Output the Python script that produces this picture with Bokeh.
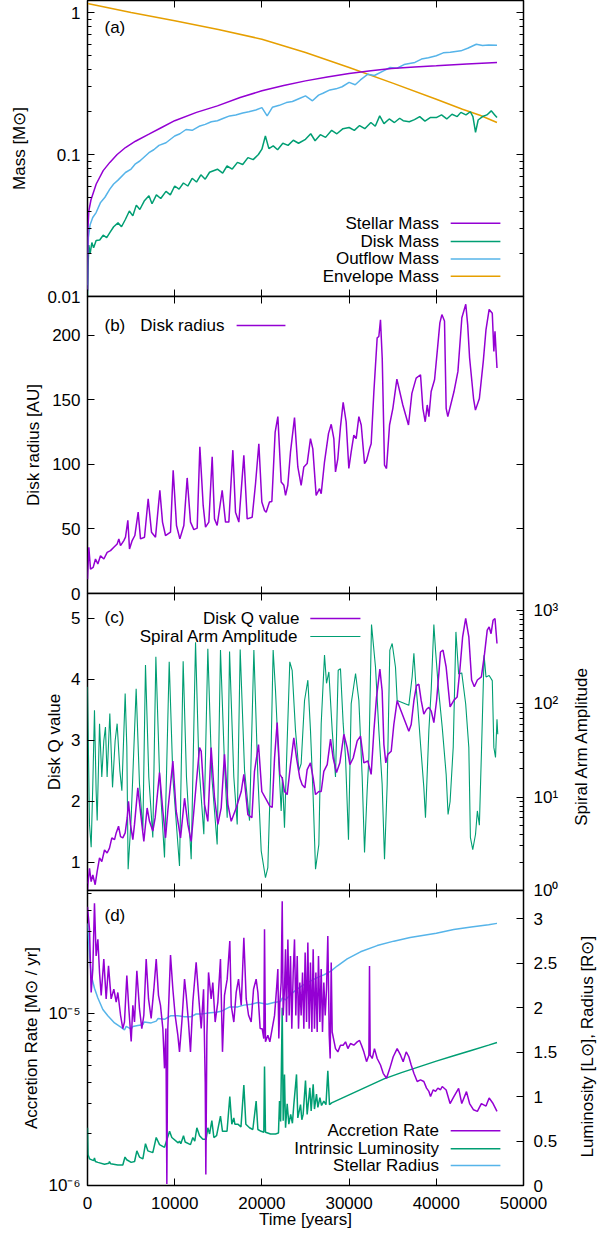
import math
from bokeh.plotting import figure
from bokeh.models import (Range1d, LinearAxis, LogAxis, FixedTicker, Label,
                          CustomJSTickFormatter, LogScale, LinearScale)
from bokeh.layouts import column, row
from bokeh.embed import file_html
from bokeh.resources import INLINE

FONT = "Liberation Sans"
FS = "17px"
PURPLE = "#9400D3"
GREEN = "#009E73"
BLUE = "#56B4E9"
ORANGE = "#E69F00"

X_RANGE = (0, 50000)
X_TICKS = [0, 10000, 20000, 30000, 40000, 50000]

# ---------------- panel (a): masses ----------------
t_stellar = [0, 50, 150, 400, 1000, 1800, 2560, 3400, 4355, 5500, 7045, 8500, 10000, 12500,
             14900, 17500, 20000, 22500, 25000, 27500, 30000, 32500, 34850, 37500, 40000,
             43500, 46960]
m_stellar = [0.011, 0.03, 0.04, 0.048, 0.062, 0.077, 0.088, 0.1, 0.112, 0.124, 0.139, 0.155,
             0.173, 0.198, 0.22, 0.252, 0.281, 0.306, 0.33, 0.352, 0.372, 0.389, 0.403, 0.413,
             0.421, 0.434, 0.445]

t_disk = [0, 60, 150, 300, 500, 700, 990, 1400, 1800, 2200, 2560, 3000, 3500, 3900, 4355, 4800,
          5200, 5600, 6000, 6500, 7045, 7400, 7900, 8400, 9000, 9500, 10000, 10500, 11000, 11500,
          12000, 12500, 13000, 13500, 14000, 14900, 15500, 16000, 16600, 17200, 17800, 18400,
          19000, 19600, 20000, 20400, 20800, 21300, 21800, 22400, 23000, 23600, 24200, 25000,
          25600, 26100, 26700, 27300, 28000, 28600, 29300, 30000, 30600, 31200, 31800, 32500,
          33000, 33510, 34000, 34600, 35200, 35800, 36200, 36900, 37500, 38100, 38700, 39300,
          40000, 40600, 41200, 41800, 42400, 42820, 43400, 43900, 44200, 44500, 44800, 45300,
          45800, 46300, 46700, 46960]
m_disk = [0.01, 0.016, 0.023, 0.02, 0.024, 0.022, 0.0248, 0.025, 0.027, 0.026, 0.0282, 0.031,
          0.033, 0.031, 0.035, 0.04, 0.037, 0.044, 0.041, 0.047, 0.0512, 0.045, 0.052, 0.049,
          0.055, 0.052, 0.06, 0.057, 0.063, 0.06, 0.068, 0.064, 0.072, 0.067, 0.075, 0.0788,
          0.074, 0.083, 0.079, 0.088, 0.085, 0.095, 0.092, 0.1, 0.109, 0.135, 0.11, 0.115, 0.108,
          0.12, 0.116, 0.126, 0.12, 0.128, 0.14, 0.125, 0.138, 0.132, 0.148, 0.14, 0.152, 0.155,
          0.148, 0.16, 0.152, 0.168, 0.158, 0.187, 0.165, 0.178, 0.168, 0.18, 0.173, 0.17, 0.176,
          0.185, 0.172, 0.182, 0.182, 0.19, 0.178, 0.192, 0.185, 0.198, 0.19, 0.2, 0.185, 0.143,
          0.175, 0.185, 0.19, 0.203, 0.19, 0.182]

t_outflow = [0, 100, 300, 600, 990, 1500, 2000, 2560, 3000, 3500, 4355, 5000, 5500, 6000, 7045,
             7600, 8200, 9000, 10000, 10600, 11300, 12000, 12800, 13500, 14200, 14900, 15600,
             16300, 17000, 17800, 18500, 19300, 20000, 20600, 21200, 22000, 22800, 23500, 24300,
             25000, 25800, 26500, 27000, 27800, 28500, 29200, 30000, 30700, 31300, 32160, 32900,
             33950, 34700, 35500, 36300, 37545, 38300, 39100, 40000, 40800, 41600, 42820, 43600,
             44590, 45300, 46000, 46960]
m_outflow = [0.012, 0.026, 0.032, 0.036, 0.039, 0.046, 0.05, 0.057, 0.062, 0.066, 0.0747, 0.079,
             0.086, 0.09, 0.103, 0.108, 0.116, 0.121, 0.135, 0.14, 0.15, 0.148, 0.158, 0.163,
             0.17, 0.173, 0.18, 0.187, 0.19, 0.196, 0.2, 0.206, 0.214, 0.187, 0.215, 0.222,
             0.232, 0.236, 0.248, 0.259, 0.239, 0.262, 0.27, 0.285, 0.29, 0.3, 0.322, 0.31,
             0.335, 0.368, 0.36, 0.388, 0.41, 0.405, 0.43, 0.445, 0.47, 0.48, 0.496, 0.52,
             0.525, 0.537, 0.56, 0.598, 0.585, 0.59, 0.589]

t_envelope = [0, 5000, 10000, 15000, 20000, 25000, 30000, 35000, 40000, 43000, 45000, 46960]
m_envelope = [1.157, 1.0, 0.874, 0.759, 0.649, 0.523, 0.41, 0.318, 0.245, 0.2085, 0.189, 0.168]

# ---------------- panel (b): disk radius ----------------
t_radius = [0, 153, 344, 650, 918, 1185, 1490, 1873, 2255, 2638, 3020, 3402, 3594, 3785, 4167,
            4358, 4626, 4817, 5123, 5429, 5811, 6079, 6537, 6958, 7340, 7799, 8296, 8602, 8946,
            9519, 9825, 10207, 10590, 11048, 11430, 11813, 12195, 12578, 12884, 13266, 13533,
            13916, 14298, 14565, 14871, 15445, 15827, 16209, 16668, 16974, 17356, 17930, 18312,
            18885, 19268, 19650, 19993, 20300, 20490, 20870, 21140, 21520, 21830, 22210, 22520,
            22710, 22970, 23280, 23740, 24120, 24500, 24810, 25190, 25570, 25840, 26220, 26610,
            26800, 27180, 27640, 27950, 28250, 28440, 28710, 29010, 29320, 29660, 29970, 30240,
            30540, 30810, 31120, 31390, 31770, 32000, 32340, 32530, 32840, 33220, 33410, 33600,
            33800, 34060, 34290, 34640, 35020, 35480, 36160, 36810, 37200, 37690, 38190, 38460,
            38730, 38960, 39150, 39410, 39800, 40180, 40410, 40640, 40940, 41130, 41320, 42030,
            42480, 42930, 43380, 43600, 43820, 44270, 44490, 44940, 45390, 45700, 46060, 46420,
            46600, 46730, 46960]
r_disk = [11, 35.8, 18.9, 20.2, 26.7, 22.8, 29.3, 26.7, 31.9, 33.2, 35.8, 38.4, 42.3, 37.1, 41,
          43.6, 56.6, 34.5, 41, 44.9, 63, 42.3, 43.6, 73.4, 47.5, 43.6, 79.9, 55.3, 44.9, 47.5,
          95.5, 52.7, 42.3, 52.7, 89.5, 55.3, 49.5, 50.6, 113.6, 68.2, 51.4, 55.3, 105.8, 57.8,
          52.7, 79.9, 55.3, 55.3, 111, 63, 55.3, 107, 57.8, 59.1, 85, 116, 70.8, 64.3, 63, 70.8,
          71.3, 125, 137, 86.4, 83.8, 76, 83.8, 109.7, 136.2, 98, 83.8, 98, 100.6, 120, 112, 76,
          81.2, 77.3, 102, 124, 131, 120, 94.2, 104.5, 129, 148, 133, 96.8, 109.7, 122.7, 120,
          137, 130.5, 100.6, 103, 112, 116, 156, 198, 199, 212, 182, 99.4, 96.8, 130.5, 143.4,
          166, 146, 130.5, 155, 166.8, 169.4, 143.4, 133, 146, 137, 156.4, 165.5, 192.7, 209.6,
          216, 211, 143.4, 137, 156.4, 172, 213.5, 224, 208, 182.4, 151, 142, 151, 180, 204.4,
          220, 217, 187.5, 203, 174.6]

# ---------------- panel (c): Q value and spiral arm amplitude ----------------
t_q = [0, 40, 230, 420, 610, 880, 1110, 1380, 1640, 1950, 2250, 2520, 2790, 3100, 3290, 3560,
       3790, 4050, 4320, 4550, 4700, 4930, 5200, 5390, 5770, 6150, 6460, 6840, 7110, 7490, 7760,
       8260, 8640, 8950, 9210, 9790, 10170, 10670, 10860, 11130, 11510, 11890, 12460, 12850,
       13040, 13420, 13800, 14180, 14570, 14950, 15330, 15710, 16100, 16480, 17050, 17630,
       17930, 18390, 18850, 19150, 19610, 19990, 20410, 20910, 21180, 21450, 21750, 22060,
       22330, 22590, 22900, 23280, 23660, 23970, 24350, 24620, 24930, 25190, 25570, 25880,
       26150, 26530, 26800, 27100, 27490, 27870, 28170, 28560, 28940, 29400, 29780, 30090,
       30470, 30930, 31310, 31690, 32150, 32530, 32840, 33140, 33530, 33790, 33990, 34210,
       34440, 34830, 35130, 35510, 36850, 37120, 37430, 37730, 38000, 38270, 38570, 38880,
       39150, 39420, 39720, 40030, 40290, 40480, 40770, 41130, 41580, 42030, 42390, 42700,
       43020, 43370, 43730, 44050, 44360, 44710, 45170, 45530, 45840, 46060, 46280, 46510,
       46730, 46960]
q_disk = [0.5, 0.63, 0.9, 0.68, 0.79, 0.63, 0.85, 1.07, 1.01, 1.2, 1.15, 1.23, 1.4, 1.37, 1.48,
          1.59, 1.42, 1.4, 1.48, 1.73, 2.0, 1.62, 1.37, 1.62, 2.22, 1.73, 1.34, 1.89, 1.67, 1.51,
          1.73, 2.47, 1.84, 1.4, 1.84, 2.66, 1.84, 1.4, 1.67, 2.05, 1.62, 1.34, 2.27, 2.88, 2.82,
          1.95, 1.67, 2.88, 2.05, 1.62, 1.89, 2.77, 1.95, 1.67, 1.89, 2.16, 2.44, 1.78, 1.73,
          2.49, 2.93, 2.16, 2.05, 1.92, 1.9, 2.71, 3.29, 2.44, 2.38, 2.16, 2.11, 2.6, 3.04, 2.71,
          2.38, 2.27, 2.22, 2.52, 2.63, 2.38, 2.11, 2.16, 2.16, 2.49, 2.6, 3.02, 2.71, 2.47, 2.63,
          3.1, 2.88, 2.6, 2.71, 2.99, 3.07, 2.63, 2.66, 2.44, 3.15, 3.7, 4.17, 3.81, 2.93, 2.63,
          2.77, 2.82, 3.26, 3.65, 3.15, 3.26, 3.65, 3.9, 3.92, 3.65, 3.43, 3.51, 3.54, 3.48,
          3.29, 3.65, 4.09, 4.45, 4.48, 4.2, 3.55, 3.66, 3.71, 4.15, 4.7, 5.0, 4.7, 3.99, 3.88,
          3.99, 4.04, 4.42, 4.81, 4.86, 4.75, 4.97, 5.0, 4.59]

t_amp = [0, 230, 420, 610, 800, 990, 1110, 1380, 1640, 1870, 2060, 2250, 2560, 2870, 3170,
         3400, 3710, 3940, 4320, 4510, 4660, 5010, 5580, 5960, 6350, 6650, 7030, 7490, 7840,
         8260, 8830, 9370, 9790, 10550, 10970, 11350, 11890, 12390, 12770, 13340, 13800, 14260,
         14870, 15250, 15710, 16020, 16290, 16780, 17170, 17510, 18010, 18580, 19080, 19540,
         19920, 20410, 20680, 20990, 21290, 21560, 21940, 22210, 22360, 22590, 22900, 23200,
         23470, 23850, 24240, 24500, 24890, 25270, 25570, 25880, 26150, 26530, 26800, 27180,
         27410, 27680, 28060, 28440, 28750, 29010, 29320, 29590, 29930, 30240, 30740, 31120,
         31500, 31770, 32070, 32270, 32570, 33030, 33410, 33790, 34060, 34370, 34670, 34940,
         35320, 35510, 36850, 37230, 37430, 37620, 37880, 38190, 38570, 38760, 39150, 39420,
         39720, 39910, 40230, 40680, 41130, 41350, 41580, 41940, 42250, 42560, 42920, 43370,
         43730, 43910, 44180, 44500, 44710, 44940, 45170, 45480, 45700, 46060, 46420, 46600,
         46790, 46960, 47050]
a_spiral = [151, 5.1, 2.9, 13.8, 85, 11.7, 5.6, 61, 16.4, 40, 56, 16.4, 78.5, 12.7, 40, 61, 19.2,
            11.7, 128, 34, 1.69, 6.0, 144, 13.8, 4.4, 258, 16.4, 3.7, 317, 17.7, 2.25, 280, 16.4,
            1.83, 284, 16.4, 2.16, 453, 22.7, 4.0, 386, 16.4, 3.1, 374, 22.7, 6.0, 360, 16.4, 5.1,
            380, 19.2, 5.6, 374, 16.4, 2.66, 1.37, 1.76, 16.4, 374, 138, 22.7, 7.1, 16.4, 4.7, 40,
            280, 227, 52, 19.2, 22.7, 108, 178, 52, 9.9, 1.69, 3.1, 61, 330, 165, 218, 52, 16.4,
            227, 236, 61, 26.7, 3.5, 100, 210, 108, 16.4, 2.55, 11.7, 26.7, 700, 245, 52, 13.8,
            2.16, 13.8, 374, 440, 245, 108, 95.8, 194, 346, 178, 92, 37, 12.7, 6.0, 52, 143, 700,
            374, 150, 55.7, 17.5, 6.5, 8.9, 34, 585, 208, 213, 99, 34, 3.7, 2.74, 4.0, 7.1, 5.0,
            28.6, 328, 193, 200, 176, 34, 26.5, 68, 47]

# ---------------- panel (d): accretion rate, luminosity, stellar radius ----------------
t_acc = [0, 230, 420, 610, 800, 990, 1190, 1380, 1570, 1870, 2140, 2410, 2710, 3020, 3290, 3480,
         3790, 4050, 4240, 4510, 4740, 5010, 5200, 5390, 5660, 5960, 6230, 6460, 6730, 7000,
         7300, 7610, 7880, 8140, 8370, 8640, 8830, 8990, 9100, 9210, 9520, 9790, 10050, 10360,
         10550, 10820, 11130, 11320, 11580, 11810, 12080, 12460, 12770, 13040, 13310, 13500,
         13570, 13690, 13880, 14180, 14370, 14640, 14950, 15250, 15480, 15710, 16020, 16320,
         16480, 16780, 17050, 17320, 17630, 17930, 18200, 18470, 18770, 19040, 19340, 19540,
         19800, 20030, 20220, 20300, 20410, 20680, 20910, 21180, 21450, 21680, 21830, 21940,
         22060, 22210, 22330, 22440, 22590, 22710, 22820, 22980, 23130, 23280, 23430, 23590,
         23740, 23890, 24050, 24200, 24350, 24500, 24660, 24810, 24960, 25120, 25270, 25420,
         25570, 25730, 25880, 26030, 26190, 26340, 26490, 26650, 26800, 26950, 27100, 27260,
         27410, 27560, 27720, 27830, 27950, 28060, 28440, 28710, 29010, 29320, 29590, 29860,
         30160, 30540, 30930, 31200, 31420, 31690, 32000, 32270, 32340, 32420, 32650, 32910,
         33220, 33600, 33910, 34290, 34670, 35060, 35510, 35900, 36200, 36550, 36850, 37120,
         37430, 37810, 38190, 38570, 38880, 39150, 39340, 39650, 39910, 40180, 40480, 40680,
         41130, 41580, 42030, 42560, 42920, 43460, 43820, 44270, 44710, 45170, 45700, 46060,
         46510, 46960]
acc_rate = [4.2e-5, 3.1e-5, 1.33e-5, 1.82e-5, 4.4e-5, 2.17e-5, 2.71e-5, 1.74e-5, 1.28e-5, 2.08e-5,
            1.22e-5, 1.9e-5, 1.22e-5, 1.39e-5, 1.17e-5, 1.33e-5, 9.8e-6, 8.2e-6, 8.95e-6, 1.67e-5,
            1.07e-5, 6.9e-6, 1.12e-5, 8.95e-6, 1.78e-5, 1.07e-5, 8.2e-6, 9.8e-6, 2.08e-5, 1.22e-5,
            9.4e-6, 1.39e-5, 2.08e-5, 1.28e-5, 1.12e-5, 8.2e-6, 4.81e-6, 8.2e-6, 1.02e-6, 8.2e-6,
            2.2e-5, 1.39e-5, 9.8e-6, 7.5e-6, 6.0e-6, 8.95e-6, 1.59e-5, 1.28e-5, 8.95e-6, 6.0e-6,
            1.17e-5, 1.99e-5, 1.22e-5, 8.2e-6, 1.39e-5, 4.0e-6, 1.16e-6, 7.5e-6, 1.74e-5, 1.22e-5,
            1.52e-5, 8.95e-6, 1.17e-5, 2.08e-5, 6.0e-6, 1.28e-5, 1.59e-5, 2.65e-5, 1.12e-5,
            8.95e-6, 1.33e-5, 1.59e-5, 1.12e-5, 2.77e-5, 1.22e-5, 9.8e-6, 8.95e-6, 1.39e-5,
            1.59e-5, 1.33e-5, 8.2e-6, 8.19e-6, 7.17e-6, 3.1e-5, 6.86e-6, 7.5e-6, 6.86e-6, 8.19e-6,
            9.78e-6, 1.395e-5, 1.82e-5, 7.17e-6, 1.168e-5, 1.52e-5, 4.52e-5, 9.78e-6, 1.395e-5,
            2.375e-5, 8.95e-6, 2.71e-5, 9.78e-6, 2.17e-5, 8.19e-6, 1.74e-5, 2.71e-5, 9.78e-6,
            2.17e-5, 8.19e-6, 1.52e-5, 9.78e-6, 1.74e-5, 8.19e-6, 2.27e-5, 8.95e-6, 2.6e-5,
            8.19e-6, 1.99e-5, 7.83e-6, 2.375e-5, 8.19e-6, 1.74e-5, 7.83e-6, 2.17e-5, 8.95e-6,
            1.82e-5, 7.83e-6, 1.52e-5, 9.78e-6, 1.395e-5, 2.84e-5, 7.5e-6, 5.49e-6, 1.99e-5,
            7.83e-6, 6.27e-6, 6.0e-6, 6.56e-6, 6.56e-6, 6.86e-6, 6.27e-6, 6.71e-6, 6.56e-6,
            6.86e-6, 6.99e-6, 6.56e-6, 6.0e-6, 5.26e-6, 5.74e-6, 1.9e-5, 5.74e-6, 5.49e-6, 6.27e-6,
            5.49e-6, 5.03e-6, 4.5e-6, 4.21e-6, 4.81e-6, 5.62e-6, 6.27e-6, 5.74e-6, 5.26e-6, 6.0e-6,
            5.62e-6, 5.03e-6, 4.5e-6, 4.03e-6, 4.12e-6, 4.03e-6, 3.69e-6, 3.53e-6, 3.3e-6, 3.61e-6,
            3.53e-6, 3.69e-6, 3.61e-6, 3.77e-6, 3.6e-6, 3.0e-6, 3.3e-6, 3.68e-6, 3.0e-6, 3.52e-6,
            3.0e-6, 2.76e-6, 2.7e-6, 3.0e-6, 2.9e-6, 3.23e-6, 3.0e-6, 2.7e-6]

t_lum = [0, 60, 230, 700, 800, 900, 1190, 1950, 2450, 2520, 2650, 3480, 4050, 4300, 4500, 5010,
         5400, 5660, 5960, 6350, 6650, 6920, 7490, 7880, 8260, 8830, 9410, 9670, 10400, 10550,
         10700, 11010, 11200, 11810, 12080, 12300, 12540, 12850, 13230, 13600, 13800, 14000,
         14260, 14490, 14800, 15250, 15480, 16000, 16320, 16550, 16780, 16900, 17240, 17600,
         17930, 18160, 18580, 18960, 19340, 19540, 19920, 20220, 20300, 20410, 20990, 21560,
         21900, 22020, 22150, 22330, 22440, 22590, 22710, 22900, 23090, 23300, 23500, 23660,
         23970, 24120, 24430, 24580, 24730, 25000, 25190, 25500, 25650, 25880, 26030, 26260,
         26420, 26650, 26840, 27100, 27350, 27560, 27750, 28000, 30000, 32000, 34000, 36000,
         38000, 40000, 42000, 44000, 46000, 46960]
lum = [0.65, 0.35, 0.3, 0.28, 0.31, 0.27, 0.26, 0.24, 0.25, 0.27, 0.245, 0.23, 0.23, 0.32, 0.29,
       0.26, 0.27, 0.39, 0.32, 0.3, 0.47, 0.39, 0.37, 0.54, 0.46, 0.43, 0.61, 0.54, 0.48, 0.5,
       0.47, 0.56, 0.49, 0.46, 0.54, 0.5, 0.65, 0.56, 0.52, 0.52, 0.65, 0.58, 0.73, 0.54, 0.56,
       0.78, 0.61, 0.61, 1.0, 0.69, 0.76, 0.69, 0.69, 0.66, 1.13, 0.69, 0.65, 0.63, 0.95, 0.63,
       0.61, 0.6, 1.34, 0.6, 0.58, 0.58, 0.59, 0.95, 0.72, 2.0, 0.73, 1.25, 0.65, 0.92, 0.69,
       0.8, 0.7, 0.91, 1.25, 0.76, 0.91, 0.74, 0.8, 1.18, 0.8, 1.1, 0.84, 1.14, 0.86, 1.03,
       0.88, 0.99, 0.9, 0.95, 0.91, 1.29, 0.91, 0.93, 1.02, 1.11, 1.2, 1.27, 1.335, 1.4, 1.46,
       1.52, 1.58, 1.61]

t_rad = [0, 230, 420, 800, 1190, 1760, 2330, 3100, 3860, 4240, 4440, 5010, 5200, 5770, 6350,
         6500, 7300, 7880, 8100, 8830, 9520, 10360, 11130, 11890, 12460, 13040, 13800, 14750,
         15330, 16320, 17240, 17930, 18770, 19540, 20600, 21370, 22130, 22330, 22710, 23280,
         24050, 24810, 25570, 26340, 27100, 27870, 28630, 29780, 31310, 33220, 35130, 37000,
         40000, 42000, 44000, 46000, 46960]
rad = [2.95, 2.6, 2.37, 2.22, 2.11, 1.98, 1.91, 1.83, 1.78, 1.75, 1.79, 1.76, 1.79, 1.8, 1.81,
       1.84, 1.83, 1.85, 1.88, 1.87, 1.91, 1.91, 1.9, 1.9, 1.93, 1.93, 1.94, 1.95, 1.96, 2.01,
       2.01, 2.03, 2.04, 2.06, 2.04, 2.06, 2.07, 2.11, 2.09, 2.15, 2.21, 2.26, 2.3, 2.34, 2.37,
       2.41, 2.47, 2.55, 2.63, 2.7, 2.75, 2.79, 2.84, 2.88, 2.91, 2.935, 2.95]

# tick values
MASS_TICKS = [0.01, 0.1, 1]
RADIUS_TICKS = [0, 50, 100, 150, 200]
Q_TICKS = [1, 2, 3, 4, 5]
AMP_TICKS = [1, 10, 100, 1000]
ACC_TICKS = [1e-6, 1e-5]
LR_TICKS = [0, 0.5, 1, 1.5, 2, 2.5, 3]

# axis ranges
A_YR = (0.01, 1.215)
B_YR = (0, 230)
C_YR = (0.535, 5.41)
C_Y2R = (1, 1507)
D_YR = (1e-6, 5.22e-5)
D_Y2R = (0, 3.32)


def log_minors(lo_exp, hi_exp, top):
    out = []
    for e in range(lo_exp, hi_exp + 1):
        for m in range(2, 10):
            v = m * 10.0 ** e
            if v < top:
                out.append(v)
    return out


sup_fmt_code = """
const s = {"-":"\u207b","0":"\u2070","1":"\u00b9","2":"\u00b2","3":"\u00b3","4":"\u2074",
           "5":"\u2075","6":"\u2076","7":"\u2077","8":"\u2078","9":"\u2079"};
const e = Math.round(Math.log10(tick));
return "10" + String(e).split("").map(c => s[c]).join("");
"""
plain_fmt_code = "return Number(tick.toPrecision(6)).toString();"


def style_axis(ax, show, standoff=10, label_standoff=5):
    ax.axis_line_color = None
    ax.major_tick_in = 7
    ax.major_tick_out = 0
    ax.minor_tick_in = 4
    ax.minor_tick_out = 0
    ax.major_tick_line_color = "black"
    ax.minor_tick_line_color = "black"
    ax.major_tick_line_width = 1
    ax.minor_tick_line_width = 1
    ax.major_label_text_font = FONT
    ax.major_label_text_color = "black"
    ax.axis_label_text_font = FONT
    ax.axis_label_text_font_size = FS
    ax.axis_label_text_font_style = "normal"
    ax.axis_label_text_color = "black"
    ax.axis_label_standoff = label_standoff
    if show:
        ax.major_label_text_font_size = FS
        ax.major_label_text_alpha = 1.0
        ax.major_label_standoff = standoff
    else:
        # mirrored tick marks only (gnuplot style); labels invisible
        ax.major_label_text_font_size = "1px"
        ax.major_label_text_alpha = 0
        ax.major_label_standoff = 0


def make_panel(frame_h, yr, log, btop, bbot, mtop, bright=70):
    p = figure(frame_width=436, frame_height=frame_h,
               x_range=Range1d(*X_RANGE), y_range=Range1d(*yr),
               y_axis_type="log" if log else "linear",
               output_backend="svg", toolbar_location=None,
               min_border_left=87, min_border_right=bright,
               min_border_top=btop, min_border_bottom=bbot,
               margin=(mtop, 0, 0, 0))
    p.grid.visible = False
    p.outline_line_color = "black"
    p.outline_line_width = 1.5
    p.outline_line_alpha = 1.0
    p.background_fill_color = "white"
    p.border_fill_alpha = 0
    xb = p.below[0]
    xb.ticker = FixedTicker(ticks=X_TICKS, minor_ticks=[])
    style_axis(xb, False)
    xt = LinearAxis(ticker=FixedTicker(ticks=X_TICKS, minor_ticks=[]))
    style_axis(xt, False)
    p.add_layout(xt, "above")
    return p, xb, p.left[0]


STRIP_W = 34


def side_title(text, height, fx, fy):
    # narrow transparent strip holding a right-hand axis title that reads bottom-to-top
    s = figure(frame_width=STRIP_W, frame_height=height, x_range=Range1d(0, 1),
               y_range=Range1d(0, 1), output_backend="svg", toolbar_location=None,
               x_axis_location=None, y_axis_location=None,
               min_border_left=0, min_border_right=0, min_border_top=0, min_border_bottom=0)
    s.grid.visible = False
    s.outline_line_color = None
    s.background_fill_alpha = 0
    s.border_fill_alpha = 0
    s.add_layout(Label(x=fx, y=fy, text=text, angle=math.pi / 2, text_align="center",
                       text_baseline="middle", text_font=FONT, text_font_size=FS,
                       text_color="black"))
    return s


def ylin(r, f):
    return r[0] + (r[1] - r[0]) * f


def ylog(r, f):
    a, b = math.log10(r[0]), math.log10(r[1])
    return 10 ** (a + (b - a) * f)


def add_text(p, text, fx, y, align):
    p.add_layout(Label(x=X_RANGE[1] * fx, y=y, text=text, text_align=align,
                       text_baseline="middle", text_font=FONT, text_font_size=FS,
                       text_color="black"))


def add_key(p, text, ftext, f0, f1, y, color, lw):
    add_text(p, text, ftext, y, "right")
    p.line([X_RANGE[1] * f0, X_RANGE[1] * f1], [y, y], line_color=color, line_width=lw)


LW = 1.5

# ---------------- panel (a) ----------------
pa, xa, ya = make_panel(296, A_YR, True, 4, 12, -4)
ya.ticker = FixedTicker(ticks=MASS_TICKS, minor_ticks=log_minors(-2, 0, A_YR[1]))
ya.formatter = CustomJSTickFormatter(code=plain_fmt_code)
style_axis(ya, True, standoff=7, label_standoff=15)
ya.axis_label = "Mass [M\u2299]"
ra = LogAxis(ticker=FixedTicker(ticks=MASS_TICKS, minor_ticks=log_minors(-2, 0, A_YR[1])))
style_axis(ra, False)
pa.add_layout(ra, "right")
pa.line(t_envelope, m_envelope, line_color=ORANGE, line_width=LW)
pa.line(t_outflow, m_outflow, line_color=BLUE, line_width=LW)
pa.line(t_disk, m_disk, line_color=GREEN, line_width=LW)
pa.line(t_stellar, m_stellar, line_color=PURPLE, line_width=LW)
add_text(pa, "(a)", 0.039, ylog(A_YR, 0.909), "left")
add_key(pa, "Stellar Mass", 0.806, 0.833, 0.947, ylog(A_YR, 0.2475), PURPLE, LW)
add_key(pa, "Disk Mass", 0.806, 0.833, 0.947, ylog(A_YR, 0.186), GREEN, LW)
add_key(pa, "Outflow Mass", 0.806, 0.833, 0.947, ylog(A_YR, 0.127), BLUE, LW)
add_key(pa, "Envelope Mass", 0.806, 0.833, 0.947, ylog(A_YR, 0.068), ORANGE, LW)

# ---------------- panel (b) ----------------
pb, xb_, yb = make_panel(297, B_YR, False, 4, 12, -16)
yb.ticker = FixedTicker(ticks=RADIUS_TICKS, minor_ticks=[])
style_axis(yb, True, standoff=7, label_standoff=6)
yb.axis_label = "Disk radius [AU]"
rb = LinearAxis(ticker=FixedTicker(ticks=RADIUS_TICKS, minor_ticks=[]))
style_axis(rb, False)
pb.add_layout(rb, "right")
pb.line(t_radius, r_disk, line_color=PURPLE, line_width=LW)
add_text(pb, "(b)", 0.039, ylin(B_YR, 0.902), "left")
add_key(pb, "Disk radius", 0.314, 0.342, 0.454, ylin(B_YR, 0.902), PURPLE, LW)

# ---------------- panel (c) ----------------
pc, xc, yc = make_panel(297, C_YR, False, 4, 12, 0, bright=40)
pc.extra_y_ranges = {"amp": Range1d(*C_Y2R)}
pc.extra_y_scales = {"amp": LogScale()}
yc.ticker = FixedTicker(ticks=Q_TICKS, minor_ticks=[])
style_axis(yc, True, standoff=7, label_standoff=4)
yc.axis_label = "Disk Q value"
rc = LogAxis(y_range_name="amp",
             ticker=FixedTicker(ticks=AMP_TICKS, minor_ticks=log_minors(0, 3, C_Y2R[1])))
rc.formatter = CustomJSTickFormatter(code=sup_fmt_code)
style_axis(rc, True, standoff=10)
pc.add_layout(rc, "right")
pc.line(t_amp, a_spiral, line_color=GREEN, line_width=1.1, y_range_name="amp")
pc.line(t_q, q_disk, line_color=PURPLE, line_width=LW)
add_text(pc, "(c)", 0.039, ylin(C_YR, 0.919), "left")
add_key(pc, "Disk Q value", 0.486, 0.511, 0.626, ylin(C_YR, 0.916), PURPLE, LW)
add_key(pc, "Spiral Arm Amplitude", 0.486, 0.511, 0.626, ylin(C_YR, 0.855), GREEN, 1.1)
sc = side_title("Spiral Arm Amplitude", 4 + 297 + 12, 0.53, 1 - (4 + 297 / 2) / (4 + 297 + 12))
row_c = row(pc, sc, spacing=0, margin=(-16, 0, 0, 0))

# ---------------- panel (d) ----------------
pd_, xd, yd = make_panel(295, D_YR, True, 4, 47, 0, bright=40)
pd_.extra_y_ranges = {"lr": Range1d(*D_Y2R)}
pd_.extra_y_scales = {"lr": LinearScale()}
yd.ticker = FixedTicker(ticks=ACC_TICKS, minor_ticks=log_minors(-6, -5, D_YR[1]))
yd.formatter = CustomJSTickFormatter(code=sup_fmt_code)
style_axis(yd, True, standoff=7, label_standoff=5)
yd.axis_label = "Accretion Rate [M\u2299 / yr]"
rd = LinearAxis(y_range_name="lr", ticker=FixedTicker(ticks=LR_TICKS, minor_ticks=[]))
rd.formatter = CustomJSTickFormatter(code=plain_fmt_code)
style_axis(rd, True, standoff=10)
pd_.add_layout(rd, "right")
style_axis(xd, True, standoff=11, label_standoff=-2)
xd.formatter = CustomJSTickFormatter(code=plain_fmt_code)
xd.axis_label = "Time [years]"
pd_.line(t_rad, rad, line_color=BLUE, line_width=LW, y_range_name="lr")
pd_.line(t_lum, lum, line_color=GREEN, line_width=LW, y_range_name="lr")
pd_.line(t_acc, acc_rate, line_color=PURPLE, line_width=LW)
add_text(pd_, "(d)", 0.039, ylog(D_YR, 0.916), "left")
add_key(pd_, "Accretion Rate", 0.806, 0.833, 0.947, ylog(D_YR, 0.186), PURPLE, LW)
add_key(pd_, "Intrinsic Luminosity", 0.806, 0.833, 0.947, ylog(D_YR, 0.125), GREEN, LW)
add_key(pd_, "Stellar Radius", 0.806, 0.833, 0.947, ylog(D_YR, 0.068), BLUE, LW)
sd = side_title("Luminosity [L\u2299],   Radius [R\u2299]", 4 + 295 + 47, 0.7,
                1 - (4 + 295 / 2) / (4 + 295 + 47))
row_d = row(pd_, sd, spacing=0, margin=(-16, 0, 0, 0))

layout = column(pa, pb, row_c, row_d, spacing=0)
open("out.html", "w").write(file_html(layout, INLINE))
